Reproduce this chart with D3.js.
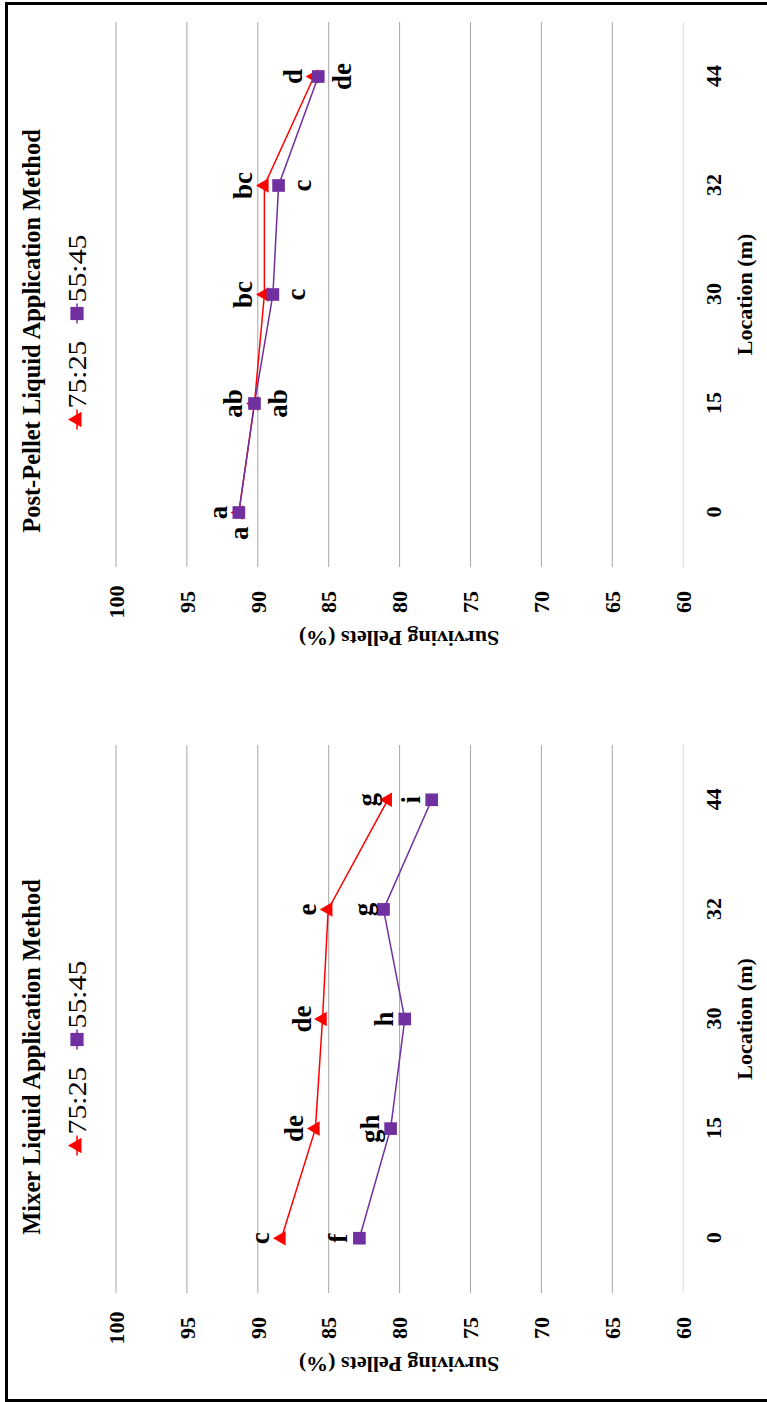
<!DOCTYPE html>
<html><head><meta charset="utf-8">
<script src="https://cdn.jsdelivr.net/npm/d3@7"></script>
<style>html,body{margin:0;padding:0;background:#fff}</style>
</head><body>
<svg id="c" width="767" height="1402"></svg>
<script>
// ---- data ----
const locations = ["0", "15", "30", "32", "44"];
const seriesNames = ["75:25", "55:45"];
const mixer7525 = [88.3, 85.9, 85.4, 85.0, 80.8];
const mixer5545 = [82.8, 80.6, 79.6, 81.1, 77.7];
const post7525 = [91.3, 90.2, 89.5, 89.5, 86.0];
const post5545 = [91.3, 90.2, 88.9, 88.5, 85.7];
const mixerLetters7525 = ["c", "de", "de", "e", "g"];
const mixerLetters5545 = ["f", "gh", "h", "g", "i"];
const postLetters7525 = ["a", "ab", "bc", "bc", "d"];
const postLetters5545 = ["a", "ab", "c", "c", "de"];
const mixerPlace7525 = ["above", "above", "above", "above", "above"];
const mixerPlace5545 = ["above", "above", "above", "above", "above"];
const postPlace7525 = ["above", "above", "above", "above", "above"];
const postPlace5545 = ["left", "below", "below", "below", "below"];
const yTicks = [60, 65, 70, 75, 80, 85, 90, 95, 100];
const panelTitles = ["Mixer Liquid Application Method", "Post-Pellet Liquid Application Method"];
const xTitle = "Location (m)";
const yTitle = "Surviving Pellets (%)";

// ---- styles ----
const FONT = "'Liberation Serif','Times New Roman',serif";
const RED = "#ff0000", PURPLE = "#7030a0";
const colors = [RED, PURPLE];
const symbols = [d3.symbolTriangle, d3.symbolSquare];
const symSizes = [92, 160];
const legSizes = [105, 175];

const svg = d3.select("#c");
svg.append("rect").attr("x", 0).attr("y", 0).attr("width", 767).attr("height", 1402).attr("fill", "#fff");
svg.append("rect").attr("x", 6.5).attr("y", 3.5).attr("width", 800).attr("height", 1397)
  .attr("fill", "none").attr("stroke", "#000").attr("stroke-width", 3);

// whole figure is drawn in an unrotated frame (1402 wide x 767 tall) then turned -90deg
const root = svg.append("g").attr("transform", "translate(0,1402) rotate(-90)");

const y = d3.scaleLinear().domain([60, 100]).range([682.7, 115.5]);

const panels = [
  { x0: 109, x1: 657, title: panelTitles[0],
    series: [mixer7525, mixer5545], letters: [mixerLetters7525, mixerLetters5545],
    place: [mixerPlace7525, mixerPlace5545] },
  { x0: 835, x1: 1380, title: panelTitles[1],
    series: [post7525, post5545], letters: [postLetters7525, postLetters5545],
    place: [postPlace7525, postPlace5545] }
];

panels.forEach(p => {
  const g = root.append("g");
  const x = d3.scalePoint().domain(locations).range([p.x0, p.x1]).padding(0.5);
  const cx = (p.x0 + p.x1) / 2;

  // value axis with gridlines
  const ya = g.append("g").attr("transform", `translate(${p.x0},0)`)
    .call(d3.axisLeft(y).tickValues(yTicks).tickSize(-(p.x1 - p.x0)).tickPadding(35));
  ya.select(".domain").remove();
  ya.selectAll(".tick line").attr("stroke", d => d === 60 ? "#d9d9d9" : "#a6a6a6").attr("stroke-width", 1);
  ya.selectAll(".tick text").attr("text-anchor", "middle").attr("dy", "0.35em")
    .attr("font-family", FONT).attr("font-weight", "bold").attr("font-size", 22).attr("fill", "#000");

  // category axis
  const xa = g.append("g").attr("transform", `translate(0,${y(60)})`)
    .call(d3.axisBottom(x).tickSize(0).tickPadding(23));
  xa.select(".domain").remove();
  xa.selectAll(".tick text").attr("font-family", FONT).attr("font-weight", "bold")
    .attr("font-size", 22).attr("fill", "#000");

  // axis titles
  g.append("text").attr("x", cx).attr("y", 752).attr("text-anchor", "middle")
    .attr("font-family", FONT).attr("font-weight", "bold").attr("font-size", 22).text(xTitle);
  g.append("text").attr("transform", `translate(${p.x0 - 72},${(y(60) + y(100)) / 2}) rotate(-90)`)
    .attr("text-anchor", "middle").attr("dy", "0.35em")
    .attr("font-family", FONT).attr("font-weight", "bold").attr("font-size", 22).text(yTitle);

  // chart title
  g.append("text").attr("x", p.x0 + 236).attr("y", 40).attr("text-anchor", "middle")
    .attr("font-family", FONT).attr("font-weight", "bold").attr("font-size", 24.5).text(p.title);

  // series
  const line = d3.line().x((d, i) => x(locations[i])).y(d => y(d));
  p.series.forEach((vals, s) => {
    g.append("path").attr("d", line(vals)).attr("fill", "none")
      .attr("stroke", colors[s]).attr("stroke-width", 1.5);
  });
  p.series.forEach((vals, s) => {
    g.selectAll(null).data(vals).enter().append("path")
      .attr("transform", (d, i) => `translate(${x(locations[i])},${y(d)})`)
      .attr("d", d3.symbol().type(symbols[s]).size(symSizes[s]))
      .attr("fill", colors[s]);
  });
  // letters
  p.series.forEach((vals, s) => {
    vals.forEach((v, i) => {
      const px = x(locations[i]), py = y(v), pl = p.place[s][i];
      const t = g.append("text").attr("font-family", FONT).attr("font-weight", "bold")
        .attr("font-size", 27).attr("fill", "#000").text(p.letters[s][i]);
      if (pl === "above") t.attr("x", px).attr("y", py - 12).attr("text-anchor", "middle");
      else if (pl === "below") t.attr("x", px).attr("y", py + 13).attr("dy", "0.72em").attr("text-anchor", "middle");
      else t.attr("x", px - 14).attr("y", py).attr("dy", "0.35em").attr("text-anchor", "end");
    });
  });

  // legend
  const lg = g.append("g");
  let cursor = 0;
  seriesNames.forEach((nm, s) => {
    const it = lg.append("g").attr("transform", `translate(${cursor},0)`);
    it.append("line").attr("x1", 0).attr("x2", 20).attr("y1", 0).attr("y2", 0)
      .attr("stroke", colors[s]).attr("stroke-width", 1.5);
    it.append("path").attr("transform", "translate(10,0)")
      .attr("d", d3.symbol().type(symbols[s]).size(legSizes[s])).attr("fill", colors[s]);
    it.append("text").attr("x", 21).attr("y", 9).attr("font-family", FONT)
      .attr("font-size", 26).attr("textLength", 68).attr("lengthAdjust", "spacingAndGlyphs")
      .attr("fill", "#000").text(nm);
    cursor += 21 + 68 + 17;
  });
  const total = cursor - 17;
  lg.attr("transform", `translate(${p.x0 + 235 - total / 2},77)`);
});
</script>
</body></html>
